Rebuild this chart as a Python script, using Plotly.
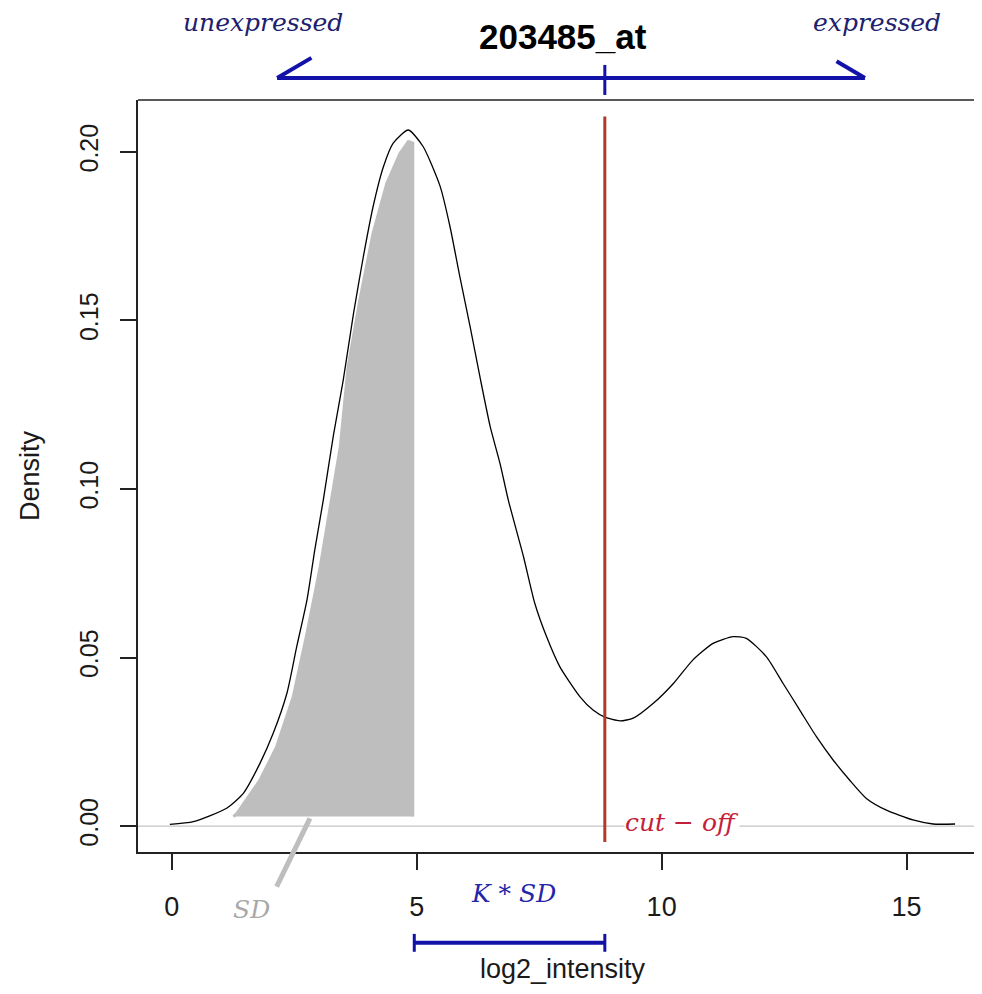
import plotly.graph_objects as go

# ---- data ----
dens_x = [-0.04, 0.44, 1.12, 1.46, 1.80, 2.07, 2.35, 2.55, 2.76, 2.92, 3.09, 3.30, 3.50,
          3.71, 3.91, 4.11, 4.32, 4.52, 4.83, 5.13, 5.48, 5.68, 5.88, 6.09, 6.29, 6.50,
          6.70, 6.87, 7.18, 7.41, 7.65, 7.92, 8.33, 8.60, 8.84, 9.15, 9.42, 9.83, 10.24,
          10.64, 11.05, 11.46, 11.73, 12.14, 12.48, 12.82, 13.16, 13.50, 13.84, 14.18,
          14.59, 15.13, 15.54, 15.99]
dens_y = [0.0005, 0.0013, 0.0053, 0.0097, 0.0186, 0.0275, 0.0394, 0.0532, 0.0671, 0.0820,
          0.0965, 0.1160, 0.1323, 0.1521, 0.1689, 0.1838, 0.1956, 0.2026, 0.2065, 0.2016,
          0.1897, 0.1778, 0.1630, 0.1482, 0.1333, 0.1185, 0.1076, 0.0967, 0.0799, 0.0661,
          0.0562, 0.0473, 0.0384, 0.0344, 0.0323, 0.0312, 0.0320, 0.0364, 0.0423, 0.0493,
          0.0542, 0.0562, 0.0557, 0.0502, 0.0423, 0.0344, 0.0265, 0.0196, 0.0136, 0.0082,
          0.0047, 0.0018, 0.0006, 0.0006]

# shaded "SD" region (left half of the unexpressed peak)
sd_x = [1.26, 1.33, 1.80, 2.14, 2.48, 2.76, 3.03, 3.23, 3.44, 3.60, 3.84, 4.11, 4.39,
        4.66, 4.83, 4.92, 4.92]
sd_y = [0.0028, 0.0038, 0.0136, 0.0235, 0.0384, 0.0572, 0.0769, 0.0947, 0.1126, 0.1363,
        0.1561, 0.1759, 0.1907, 0.1996, 0.2031, 0.2026, 0.0028]

cutoff = 8.84          # cut-off position
cutoff_top = 0.2105    # top of the cut-off line
peak_x = 4.92          # mode of the unexpressed peak
arrow_left = 2.15      # "unexpressed" arrow tip
arrow_right = 14.15    # "expressed" arrow tip

x_ticks = [0, 5, 10, 15]
x_tick_labels = ["0", "5", "10", "15"]
y_ticks = [0.00, 0.05, 0.10, 0.15, 0.20]
y_tick_labels = ["0.00", "0.05", "0.10", "0.15", "0.20"]

title_text = "<b>203485_at</b>"
x_title = "log2_intensity"
y_title = "Density"

# ---- layout constants ----
XMIN, XMAX = -0.69, 16.54
YMIN, YMAX = -0.0077, 0.2154
W, H = 974, 978
ML, MR, MT, MB = 130, 0, 92, 134


def yp(v):
    return (v - YMIN) / (YMAX - YMIN)


BLUE = "#1212a8"
NAVY = "#20206e"
RED_LINE = "#b23a2a"
SERIF = "DejaVu Serif"
SANS = "Liberation Sans, Arial, sans-serif"

fig = go.Figure()

fig.add_trace(go.Scatter(
    x=sd_x, y=sd_y, mode="lines", fill="toself", fillcolor="#bebebe",
    line=dict(color="#bebebe", width=3), hoverinfo="skip", showlegend=False))

fig.add_trace(go.Scatter(
    x=dens_x, y=dens_y, mode="lines",
    line=dict(color="black", width=1.3, shape="spline", smoothing=0.6),
    hoverinfo="skip", showlegend=False))

fig.add_trace(go.Scatter(
    x=[cutoff, cutoff], y=[cutoff_top, -0.0047], mode="lines",
    line=dict(color=RED_LINE, width=3), hoverinfo="skip", showlegend=False))

fig.add_trace(go.Scatter(
    x=[cutoff], y=[-0.0089], mode="markers", cliponaxis=False,
    marker=dict(color="#ee1111", size=11), hoverinfo="skip", showlegend=False))

shapes = []
# zero reference line
shapes.append(dict(type="line", xref="paper", yref="y", x0=0, x1=1, y0=0, y1=0,
                   line=dict(color="#c4c4c4", width=1.2), layer="below"))
# top border of the box
shapes.append(dict(type="line", xref="paper", yref="paper", x0=0, x1=1.01, y0=1, y1=1,
                   line=dict(color="#222", width=1.5)))
# top arrow bar
ay = yp(0.2219)
shapes.append(dict(type="line", xref="x", yref="paper", x0=arrow_left, x1=arrow_right,
                   y0=ay, y1=ay, line=dict(color=BLUE, width=4)))
shapes.append(dict(type="line", xref="x", yref="paper", x0=arrow_left, x1=arrow_left + 0.70,
                   y0=ay, y1=yp(0.2279), line=dict(color=BLUE, width=4)))
shapes.append(dict(type="line", xref="x", yref="paper", x0=arrow_right, x1=arrow_right - 0.58,
                   y0=ay, y1=yp(0.2269), line=dict(color=BLUE, width=4)))
shapes.append(dict(type="line", xref="x", yref="paper", x0=cutoff, x1=cutoff,
                   y0=yp(0.2169), y1=yp(0.2258), line=dict(color=BLUE, width=3)))
# K*SD bracket
by = yp(-0.0346)
shapes.append(dict(type="line", xref="x", yref="paper", x0=peak_x + 0.03, x1=cutoff,
                   y0=by, y1=by, line=dict(color=BLUE, width=4)))
for xx in (peak_x + 0.03, cutoff):
    shapes.append(dict(type="line", xref="x", yref="paper", x0=xx, x1=xx,
                       y0=yp(-0.0320), y1=yp(-0.0373), line=dict(color=BLUE, width=3)))
# SD pointer
shapes.append(dict(type="line", xref="x", yref="paper", x0=2.82, x1=2.14,
                   y0=yp(0.0023), y1=yp(-0.0180), line=dict(color="#bebebe", width=5)))


def note(text, x, y, size, color, family, xref="x", yref="paper", **kw):
    return dict(text=text, x=x, y=y, xref=xref, yref=yref, showarrow=False,
                xanchor="center", yanchor="middle",
                font=dict(family=family, size=size, color=color), **kw)


annotations = [
    note(title_text, 7.99, yp(0.2342), 35, "black", SANS),
    note("<i>unexpressed</i>", 1.86, yp(0.2385), 25, NAVY, SERIF),
    note("<i>expressed</i>", 14.39, yp(0.2385), 25, NAVY, SERIF),
    note("<i>cut − off</i>", 10.41, 0.0012, 25, "#c41e3a", SERIF, yref="y",
         bgcolor="white", borderpad=0),
    note("<i>SD</i>", 1.63, yp(-0.0249), 25, "#a8a8a8", SERIF),
    note("<i>K * SD</i>", 6.97, yp(-0.0199), 25, "#2525a8", SERIF),
    note(x_title, 7.99, yp(-0.0424), 27, "#1a1a1a", SANS),
    note(y_title, (30 - 8 - ML) / (W - ML - MR), 0.5, 27, "#1a1a1a", SANS,
         xref="paper", textangle=-90),
]

fig.update_layout(
    width=W, height=H,
    margin=dict(l=ML, r=MR, t=MT, b=MB),
    paper_bgcolor="white", plot_bgcolor="white",
    shapes=shapes, annotations=annotations, showlegend=False,
    xaxis=dict(range=[XMIN, XMAX], tickvals=x_ticks, ticktext=x_tick_labels,
               showgrid=False, zeroline=False, showline=True, linecolor="#222", linewidth=1.5,
               ticks="outside", ticklen=16, tickwidth=1.5, tickcolor="#222",
               ticklabelstandoff=14,
               tickfont=dict(family=SANS, size=27, color="#1a1a1a")),
    yaxis=dict(range=[YMIN, YMAX], tickvals=y_ticks, ticktext=y_tick_labels,
               showgrid=False, zeroline=False, showline=True, linecolor="#222", linewidth=1.5,
               ticks="outside", ticklen=16, tickwidth=1.5, tickcolor="#222",
               tickangle=-90, ticklabelstandoff=12,
               tickfont=dict(family=SANS, size=25, color="#1a1a1a")),
)

fig.write_html("out.html")
